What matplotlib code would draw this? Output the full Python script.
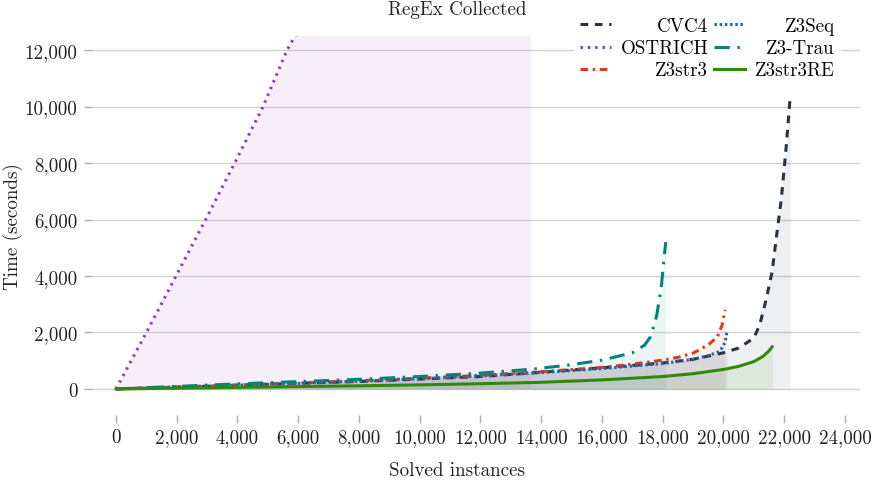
import matplotlib
matplotlib.use("Agg")
import matplotlib.pyplot as plt
from matplotlib.ticker import FuncFormatter

plt.rcParams["font.family"] = ["cmr10", "DejaVu Serif"]
plt.rcParams["mathtext.fontset"] = "cm"
plt.rcParams["axes.formatter.use_mathtext"] = True

# datos (instancias resueltas, tiempo acumulado)
cvc4_x = [0, 2000, 4000, 6000, 8000, 10000, 12000, 14000, 16000, 18000, 19000, 20000,
          20500, 21000, 21200, 21400, 21600, 21750, 21900, 22050, 22200]
cvc4_y = [0, 60, 130, 200, 265, 350, 440, 590, 750, 920, 1050, 1280,
          1450, 1800, 2300, 3150, 4150, 5450, 6700, 8400, 10400]

ostrich_x = [0, 1000, 2000, 3000, 4000, 4840, 5630, 6000, 8000, 10000, 12000, 13660]
ostrich_y = [0, 2000, 4050, 6100, 8200, 10000, 12000, 12700, 17500, 23000, 30000, 38000]

z3str3_x = [0, 2000, 4000, 6000, 8000, 10000, 12000, 14000, 16000, 17000, 18000,
            18500, 19000, 19500, 19800, 19950, 20050]
z3str3_y = [0, 70, 140, 210, 290, 380, 480, 610, 760, 880, 1020,
            1120, 1270, 1560, 1850, 2250, 2800]

z3seq_x = [0, 2000, 4000, 6000, 8000, 10000, 12000, 14000, 16000, 18000, 19000,
           19500, 19800, 19950, 20050, 20110]
z3seq_y = [0, 65, 130, 200, 275, 360, 460, 580, 720, 900, 1050,
           1180, 1300, 1450, 1650, 2000]

z3trau_x = [0, 2000, 4000, 6000, 8000, 10000, 12000, 13700, 15000, 16000, 17000,
            17400, 17600, 17800, 17950, 18050, 18100]
z3trau_y = [0, 90, 180, 260, 340, 440, 560, 700, 860, 1020, 1280,
            1550, 1850, 2600, 3600, 4700, 5200]

z3str3re_x = [0, 2000, 4000, 6000, 8000, 10000, 12000, 14000, 16000, 18000, 19000,
              20000, 20500, 21000, 21300, 21500, 21600]
z3str3re_y = [0, 25, 55, 85, 110, 145, 185, 235, 320, 440, 540,
              690, 800, 970, 1150, 1350, 1490]

series = [
    ("CVC4", cvc4_x, cvc4_y, "#263340", (2.5, 2.2)),
    ("OSTRICH", ostrich_x, ostrich_y, "#8e3fb8", (0.8, 1.6)),
    ("Z3str3", z3str3_x, z3str3_y, "#dc3a1e", (2.5, 1.5, 0.8, 1.5)),
    ("Z3Seq", z3seq_x, z3seq_y, "#1f68b0", (0.8, 0.9)),
    ("Z3-Trau", z3trau_x, z3trau_y, "#008378", (5, 2.5, 0.8, 2.5)),
    ("Z3str3RE", z3str3re_x, z3str3re_y, "#2f8a0c", None),
]

fs = 13.7
fig = plt.figure(figsize=(8.75, 4.81), dpi=100)
ax = fig.add_axes([92 / 875, 1 - 416 / 481, 768 / 875, 379 / 481])

for nombre, xs, ys, color, dashes in series:
    ax.fill_between(xs, 0, ys, color=color, alpha=0.08, linewidth=0)
    if dashes is None:
        ax.plot(xs, ys, color=color, lw=2.2, label=nombre)
    else:
        ax.plot(xs, ys, color=color, lw=2.2, dashes=dashes, label=nombre)

ax.set_xlim(-790, 24494)
ax.set_ylim(-923, 12500)
ax.set_xticks(range(0, 24001, 2000))
ax.set_yticks(range(0, 12001, 2000))
fmt = FuncFormatter(lambda v, p: f"{v:,.0f}")
ax.xaxis.set_major_formatter(fmt)
ax.yaxis.set_major_formatter(fmt)
for s in ax.spines.values():
    s.set_visible(False)
ax.tick_params(axis="both", direction="out", color="#b0b0b0", labelsize=fs,
               labelcolor="#222222", length=5.5, width=1)
ax.tick_params(axis="y", pad=5)
ax.tick_params(axis="x", pad=4)
ax.grid(axis="y", color="#d4d4d4", lw=1)
ax.set_axisbelow(True)

ax.set_xlabel("Solved instances", fontsize=fs, color="#222222")
ax.xaxis.set_label_coords(0.475, -0.122)
ax.set_ylabel("Time (seconds)", fontsize=fs, color="#222222")
ax.yaxis.set_label_coords(-0.09, 0.5)
ax.text(0.475, 1.071, "RegEx Collected", transform=ax.transAxes, fontsize=fs,
        ha="center", va="center", color="#222222")

leg = ax.legend(ncols=2, loc="upper right", bbox_to_anchor=(0.987, 1.09),
                fontsize=fs, handlelength=1.65, handletextpad=0.5,
                labelspacing=0.22, columnspacing=0.3, borderpad=0.3,
                frameon=True, fancybox=False, framealpha=1)
leg.get_frame().set_edgecolor("none")

# alinear etiquetas a la derecha dentro de cada columna
fig.canvas.draw()
r = fig.canvas.get_renderer()
textos = leg.get_texts()
for col in (textos[:3], textos[3:]):
    anchos = [t.get_window_extent(r).width for t in col]
    m = max(anchos)
    for t, w in zip(col, anchos):
        x0, y0 = t.get_position()
        t.set_position((x0 + m - w, y0))

fig.savefig("out.png", dpi=100)
